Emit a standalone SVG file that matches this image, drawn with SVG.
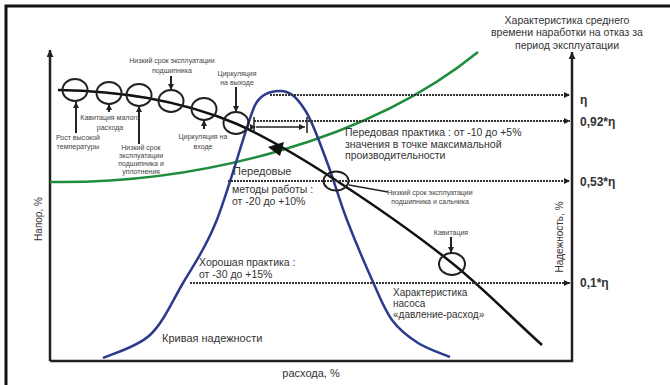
<svg xmlns="http://www.w3.org/2000/svg" width="670" height="385" viewBox="0 0 670 385">
<defs>
<marker id="ah" viewBox="0 0 10 10" refX="10" refY="5" markerWidth="7" markerHeight="7" markerUnits="userSpaceOnUse" orient="auto-start-reverse"><path d="M0,0 L10,5 L0,10 z" fill="#222"/></marker>
<marker id="ahs" viewBox="0 0 10 10" refX="10" refY="5" markerWidth="6" markerHeight="6" markerUnits="userSpaceOnUse" orient="auto"><path d="M0,0 L10,5 L0,10 z" fill="#222"/></marker>
</defs>
<style>
.t{font-family:"Liberation Sans",Arial,sans-serif;fill:#333}
.s{font-size:7px;text-anchor:middle;fill:#444}
.m{font-size:11px}
.p{font-size:10.5px}
.r{font-size:10px}
.b{font-size:12px;font-weight:bold}
.ring{fill:none;stroke:#222;stroke-width:2}
.ax{stroke:#222;stroke-width:2.5;fill:none}
.dot{stroke:#333;stroke-width:2;stroke-dasharray:2 1;fill:none}
.lead{stroke:#222;stroke-width:2;fill:none}
</style>
<rect width="670" height="385" fill="#fff"/>
<path d="M6,385 V6 H670" stroke="#111" stroke-width="3" fill="none"/>

<g id="axes">
<path class="ax" d="M50,361 V50" marker-end="url(#ah)"/>
<path class="ax" d="M50,361 H572 V52" marker-end="url(#ah)"/>
</g>

<g id="curves">
<path id="reliability-mtbf" d="M50,182 C200,184 370,140 478,52" fill="none" stroke="#1e8c3c" stroke-width="2.5"/>
<path id="reliability-curve" d="M103,358 C110.8,354.2 136.7,347.5 150,335 C163.3,322.5 172,301.8 183,283 C194,264.2 204.3,250.8 216,222 C227.7,193.2 244.7,131.2 253,110 C258,95 270,91 280,91 C291,91 297.2,98.2 305,110 C312.8,121.8 320,143.7 327,162 C334,180.3 339.3,200 347,220 C354.7,240 365.5,265.3 373,282 C380.5,298.7 384.5,309.8 392,320 C399.5,330.2 408.3,336.8 418,343 C427.7,349.2 444.7,354.7 450,357" fill="none" stroke="#2b3a8c" stroke-width="2.5"/>
<path id="pump-curve" d="M58,90 C117.7,91.2 177.3,98.9 237,124 C270.3,139 303.7,159.4 337,181 C375.3,205.9 413.7,232.4 452,263 C482,287 512,318 542,345" fill="none" stroke="#111" stroke-width="2.5"/>
</g>

<g id="connectors">
<path class="dot" d="M270,95 H570" marker-end="url(#ahs)"/>
<path class="dot" d="M254,121 H570" marker-end="url(#ahs)"/>
<path class="dot" d="M228,181 H570" marker-end="url(#ahs)"/>
<path class="dot" d="M190,283 H570" marker-end="url(#ahs)"/>
<path d="M254,117 V133 M307,117 V133" stroke="#222" stroke-width="1.5"/>
<path d="M256,127 H305" stroke="#222" stroke-width="1.5" marker-start="url(#ahs)" marker-end="url(#ahs)"/>
<polygon points="268,147 284,142 280,156" fill="#111"/>
<path class="lead" d="M76,133 V102" marker-end="url(#ahs)"/>
<path class="lead" d="M109,112 V104" marker-end="url(#ahs)"/>
<path class="lead" d="M139,144 V106" marker-end="url(#ahs)"/>
<path class="lead" d="M171,76 V90" marker-end="url(#ahs)"/>
<path class="lead" d="M204,129 V120" marker-end="url(#ahs)"/>
<path class="lead" d="M236,87 V112" marker-end="url(#ahs)"/>
<path d="M349,185 L388,192" stroke="#222" stroke-width="1.5" fill="none"/>
<path class="lead" d="M451,237 V253" marker-end="url(#ahs)"/>
</g>

<g id="node-high-temp"><ellipse class="ring" cx="75" cy="90" rx="12.5" ry="11"/>
<text class="t s" x="78" y="139.5">Рост высокой</text><text class="t s" x="78" y="148.5">температуры</text></g>
<g id="node-low-flow-cav"><ellipse class="ring" cx="109" cy="93" rx="12.5" ry="11"/>
<text class="t s" x="110" y="119.5">Кавитация малого</text><text class="t s" x="110" y="129.5">расхода</text></g>
<g id="node-bearing-seal"><ellipse class="ring" cx="139" cy="95" rx="12.5" ry="11"/>
<text class="t s" x="141" y="149.5">Низкий срок</text><text class="t s" x="141" y="157.5">эксплуатации</text><text class="t s" x="141" y="165.5">подшипника и</text><text class="t s" x="141" y="173.5">уплотнения</text></g>
<g id="node-bearing"><ellipse class="ring" cx="171" cy="101" rx="12.5" ry="11"/>
<text class="t s" x="172" y="62.5">Низкий срок эксплуатации</text><text class="t s" x="172" y="72.5">подшипника</text></g>
<g id="node-suction-recirc"><ellipse class="ring" cx="204" cy="109" rx="12.5" ry="11"/>
<text class="t s" x="203" y="139">Циркуляция на</text><text class="t s" x="203" y="148.5">входе</text></g>
<g id="node-discharge-recirc"><ellipse class="ring" cx="236" cy="123" rx="12.5" ry="11"/>
<text class="t s" x="237" y="75.5">Циркуляция</text><text class="t s" x="237" y="84.5">на выходе</text></g>
<g id="node-bearing-seal-2"><ellipse class="ring" cx="336" cy="181" rx="12.5" ry="9.5"/>
<text class="t s" x="430" y="194.5">Низкий срок эксплуатации</text><text class="t s" x="430" y="204">подшипника и сальника</text></g>
<g id="node-cavitation"><ellipse class="ring" cx="452" cy="264" rx="13" ry="11"/>
<text class="t s" x="451" y="234.5">Кавитация</text></g>

<g id="labels">
<text class="t p" x="567" y="23.5" text-anchor="middle">Характеристика среднего</text>
<text class="t p" x="567" y="36" text-anchor="middle">времени наработки на отказ за</text>
<text class="t p" x="567" y="48.5" text-anchor="middle">период эксплуатации</text>
<text class="t b" x="580" y="104">η</text>
<text class="t b" x="580" y="126">0,92*η</text>
<text class="t b" x="580" y="186">0,53*η</text>
<text class="t b" x="580" y="287">0,1*η</text>
<text class="t p" x="345" y="136">Передовая практика : от -10 до +5%</text>
<text class="t p" x="345" y="147.5">значения в точке максимальной</text>
<text class="t p" x="345" y="159">производительности</text>
<text class="t m" x="233" y="175">Передовые</text>
<text class="t p" x="232" y="193">методы работы :</text>
<text class="t p" x="232" y="204.5">от -20 до +10%</text>
<text class="t p" x="199" y="266">Хорошая практика :</text>
<text class="t p" x="199" y="277.5">от -30 до +15%</text>
<text class="t r" x="393" y="296">Характеристика</text>
<text class="t r" x="393" y="307">насоса</text>
<text class="t r" x="393" y="318">«давление-расход»</text>
<text class="t m" x="162" y="342">Кривая надежности</text>
<text class="t m" x="311" y="377" text-anchor="middle">расхода, %</text>
<text class="t r" transform="translate(42,219) rotate(-90)" text-anchor="middle">Напор, %</text>
<text class="t r" transform="translate(563,237) rotate(-90)" text-anchor="middle">Надежность, %</text>
</g>
</svg>
